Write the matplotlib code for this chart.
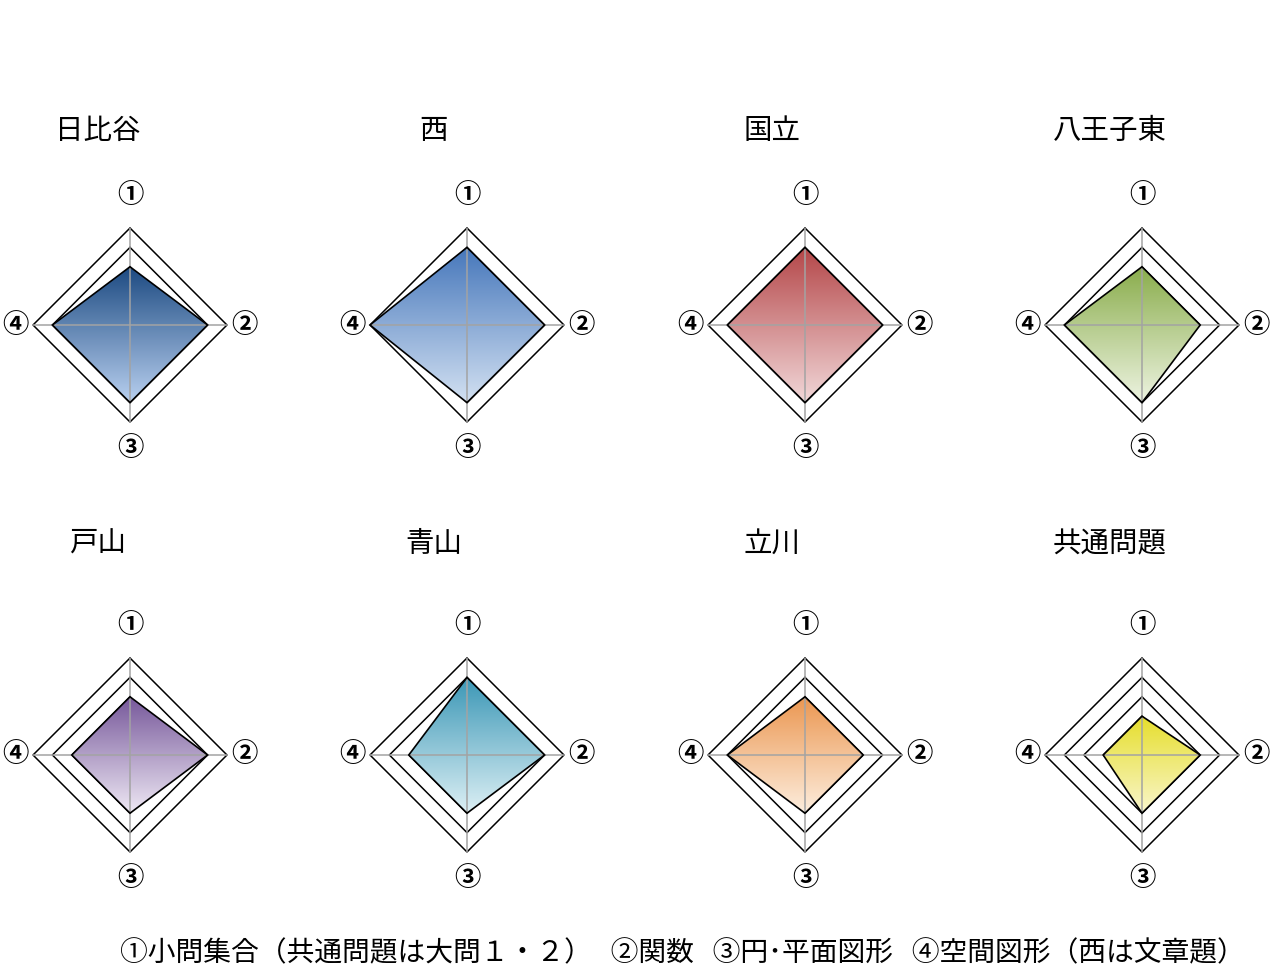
import numpy as np
import matplotlib.pyplot as plt
from matplotlib.patches import Polygon
from matplotlib.colors import LinearSegmentedColormap

plt.rcParams['font.family'] = ['Noto Sans CJK JP', 'DejaVu Sans']

# schools and scores (0-100) on the four question groups
schools = ['日比谷', '西', '国立', '八王子東', '戸山', '青山', '立川', '共通問題']
q1 = [60, 80, 80, 60, 60, 80, 60, 40]   # ①小問集合
q2 = [80, 80, 80, 60, 80, 80, 60, 60]   # ②関数
q3 = [80, 80, 80, 80, 60, 60, 60, 60]   # ③円・平面図形
q4 = [80, 100, 80, 80, 60, 60, 80, 40]  # ④空間図形
axis_labels = ['①', '②', '③', '④']
rings = [20, 40, 60, 80, 100]

top_colors = ['#1d4a82', '#4677bb', '#b44648', '#8aad4c',
              '#76579a', '#3b97b6', '#eb9650', '#e6de2c']
bottom_colors = ['#b9d1f0', '#d3e1f2', '#f2d8d9', '#eef4e2',
                 '#eee8f4', '#ddf0f5', '#fdeede', '#f9f6cc']

caption = '①小問集合（共通問題は大問１・２）   ②関数   ③円･平面図形   ④空間図形（西は文章題）'

W, H = 1280, 976
fig = plt.figure(figsize=(W / 100, H / 100), dpi=100)

col_x = [130, 467, 805, 1142]
row_y = [325, 755]
title_x = [98, 434, 772, 1110]
title_y = [131, 544]
R_PX = 97      # pixels for 100 points
HALF = 150     # half size of each axes, pixels
lim = HALF / R_PX * 100

# directions: ① up, ② right, ③ down, ④ left
dirs = np.array([[0, 1], [1, 0], [0, -1], [-1, 0]])
lab_pos = [(0, 133), (118, 0), (0, -127), (-118, 0)]

for i, name in enumerate(schools):
    r, c = divmod(i, 4)
    cx, cy = col_x[c], row_y[r]
    ax = fig.add_axes([(cx - HALF) / W, 1 - (cy + HALF) / H, 2 * HALF / W, 2 * HALF / H])
    ax.set_xlim(-lim, lim)
    ax.set_ylim(-lim, lim)
    ax.set_aspect('equal')
    ax.axis('off')

    # grid rings
    for rv in rings:
        pts = dirs * rv
        pts = np.vstack([pts, pts[:1]])
        ax.plot(pts[:, 0], pts[:, 1], color='black', lw=1.1, zorder=1)

    vals = np.array([q1[i], q2[i], q3[i], q4[i]])
    pts = dirs * vals[:, None]

    # gradient fill clipped to the polygon
    poly = Polygon(pts, closed=True, facecolor='none', edgecolor='none')
    ax.add_patch(poly)
    cmap = LinearSegmentedColormap.from_list('g', [top_colors[i], bottom_colors[i]])
    grad = np.linspace(0, 1, 256).reshape(-1, 1)
    x0, x1 = pts[:, 0].min(), pts[:, 0].max()
    y0, y1 = pts[:, 1].min(), pts[:, 1].max()
    im = ax.imshow(grad, cmap=cmap, aspect='auto', extent=[x0, x1, y0, y1],
                   origin='upper', zorder=2, interpolation='bilinear')
    im.set_clip_path(poly)

    # spokes
    ax.plot([0, 0], [-100, 100], color='#a3a3a3', lw=1.1, zorder=3)
    ax.plot([-100, 100], [0, 0], color='#a3a3a3', lw=1.1, zorder=3)

    outline = Polygon(pts, closed=True, facecolor='none', edgecolor='black', lw=1.2, zorder=4)
    ax.add_patch(outline)

    # axis labels
    for lab, (lx, ly) in zip(axis_labels, lab_pos):
        ax.text(lx, ly, lab, ha='center', va='center', fontsize=19, fontweight='bold',
                clip_on=False)

    fig.text(title_x[c] / W, 1 - title_y[r] / H, name, ha='center', va='center',
             fontsize=20.5)

fig.text(120 / W, 1 - 953 / H, caption, ha='left', va='center', fontsize=20)

fig.savefig('out.png', dpi=100)
